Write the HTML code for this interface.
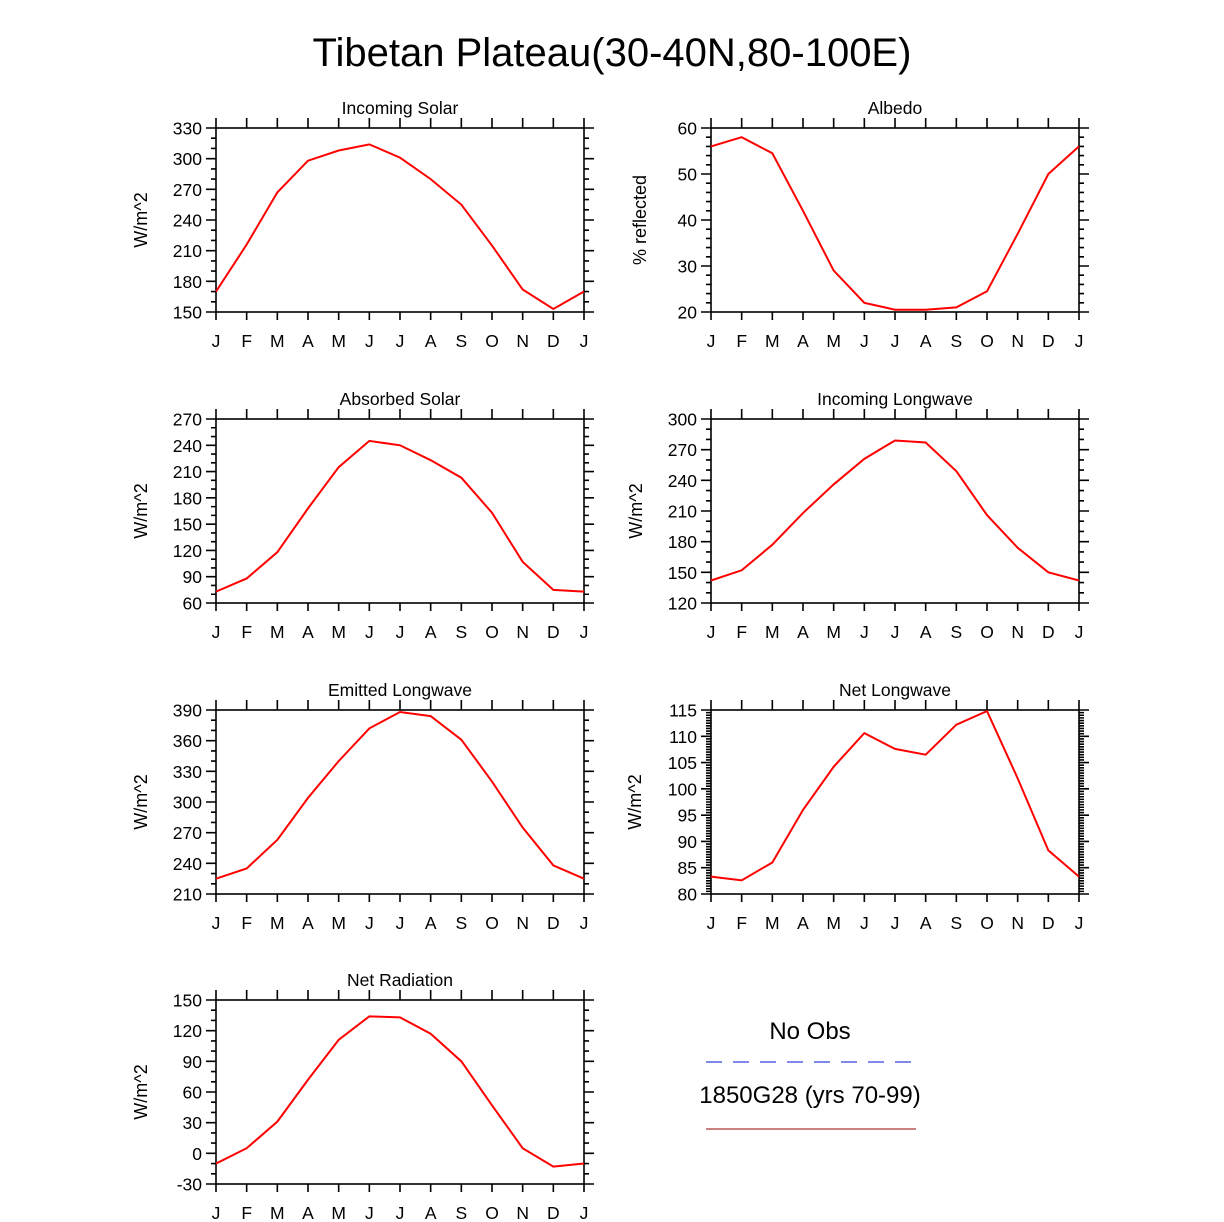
<!DOCTYPE html>
<html><head><meta charset="utf-8"><style>
body{margin:0;background:#fff}
svg{display:block;font-family:"Liberation Sans",sans-serif}
</style></head><body>
<svg id="s" width="1224" height="1222" viewBox="0 0 1224 1222">
<text x="612" y="66" font-size="40" text-anchor="middle">Tibetan Plateau(30-40N,80-100E)</text>
<g>
<text x="810" y="1039" font-size="24" text-anchor="middle">No Obs</text>
<line x1="706" y1="1062" x2="916" y2="1062" stroke="#3344dd" stroke-width="1.2" stroke-dasharray="16,11"/>
<text x="810" y="1103" font-size="24" text-anchor="middle">1850G28 (yrs 70-99)</text>
<line x1="706" y1="1129" x2="916" y2="1129" stroke="#990000" stroke-width="1"/>
</g>
</svg>
<script>
const months = ["J","F","M","A","M","J","J","A","S","O","N","D","J"];
const incomingSolar = [170,216,267,298,308,314,301,280,255,215,172,153,170];
const albedo = [56,58,54.5,42,29,22,20.5,20.5,21,24.5,37,50,56];
const absorbedSolar = [73,88,118,168,215,245,240,223,203,163,107,75,73];
const incomingLW = [142,152,177,208,236,261,279,277,249,206,174,150,142];
const emittedLW = [225,235,263,304,340,372,388,384,361,320,275,238,225];
const netLW = [83.3,82.6,86,96,104.2,110.6,107.6,106.5,112.2,114.8,102,88.3,83.3];
const netRad = [-10,5,31,72,111,134,133,117,90,47,5,-13,-10];
const panels = [
 {name:"incoming-solar",title:"Incoming Solar",ylab:"W/m^2",data:incomingSolar,min:150,max:330,step:30,minor:3,col:0,row:0,yo:67},
 {name:"albedo",title:"Albedo",ylab:"% reflected",data:albedo,min:20,max:60,step:10,minor:5,col:1,row:0,yo:63},
 {name:"absorbed-solar",title:"Absorbed Solar",ylab:"W/m^2",data:absorbedSolar,min:60,max:270,step:30,minor:3,col:0,row:1,yo:67},
 {name:"incoming-longwave",title:"Incoming Longwave",ylab:"W/m^2",data:incomingLW,min:120,max:300,step:30,minor:3,col:1,row:1,yo:67},
 {name:"emitted-longwave",title:"Emitted Longwave",ylab:"W/m^2",data:emittedLW,min:210,max:390,step:30,minor:3,col:0,row:2,yo:67},
 {name:"net-longwave",title:"Net Longwave",ylab:"W/m^2",data:netLW,min:80,max:115,step:5,minor:10,col:1,row:2,yo:68},
 {name:"net-radiation",title:"Net Radiation",ylab:"W/m^2",data:netRad,min:-30,max:150,step:30,minor:3,col:0,row:3,yo:67}
];
const svg=document.getElementById('s');
const NS="http://www.w3.org/2000/svg";
function mk(t,a,p){const e=document.createElementNS(NS,t);for(const k in a)e.setAttribute(k,a[k]);p.appendChild(e);return e;}
const lefts=[216,711], tops=[128,419,710,1000], W=368, H=184;
panels.forEach(p=>{
 const L=lefts[p.col],T=tops[p.row],R=L+W,B=T+H;
 const g=mk('g',{},svg);
 
 
 const xs=i=>L+i*W/12, ys=v=>B-(v-p.min)/(p.max-p.min)*H;
 const t=mk('text',{x:(L+R)/2,y:T-14,'font-size':17.5,'text-anchor':'middle'},g);
 t.textContent=p.title;
 
 
 const yl=mk('text',{x:0,y:0,'font-size':18,'text-anchor':'middle',transform:`translate(${L-p.yo-2},${(T+B)/2}) rotate(-90)`},g);
 yl.textContent=p.ylab;
 
 
 let d="";
 for(let i=0;i<=12;i++){const x=xs(i);d+=`M${x} ${T}V${T-10}M${x} ${B}V${B+8}`;
  const lb=mk('text',{x:x,y:B+35,'font-size':17.5,'text-anchor':'middle'},g);lb.textContent=months[i];
  
  }
 const ms=p.step/p.minor;
 for(let k=0;k<=Math.round((p.max-p.min)/ms);k++){const v=p.min+k*ms;const y=ys(v);const maj=k%p.minor===0;const len=maj?10:5;d+=`M${L} ${y}H${L-len}M${R} ${y}H${R+len}`;}
 for(let v=p.min;v<=p.max+1e-9;v+=p.step){const lb=mk('text',{x:L-14,y:ys(v)+6.5,'font-size':17.5,'text-anchor':'end'},g);lb.textContent=String(Math.round(v));
  
  }
 const ax=mk('path',{d:d,stroke:'#000','stroke-width':1.6,fill:'none'},g);
 
 
 const fr=mk('rect',{x:L,y:T,width:W,height:H,fill:'none',stroke:'#000','stroke-width':1.6},g);
 
 
 const pts=p.data.map((v,i)=>xs(i)+','+ys(v)).join(' ');
 const ln=mk('polyline',{points:pts,fill:'none',stroke:'#ff0000','stroke-width':2},g);
 
 
});
</script>
</body></html>
